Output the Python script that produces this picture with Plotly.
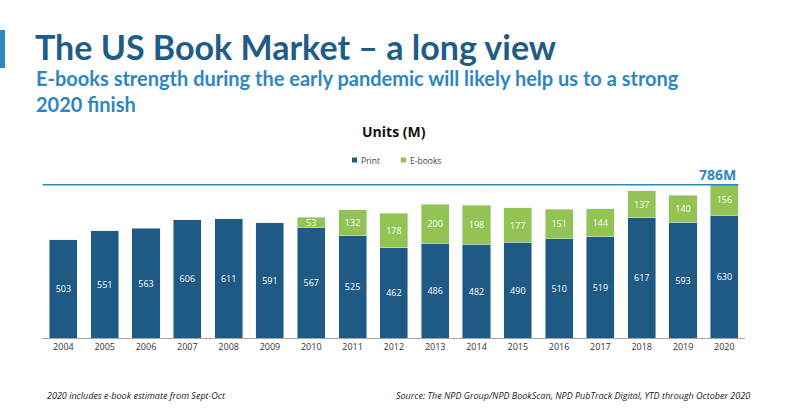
import plotly.graph_objects as go

years = [str(y) for y in range(2004, 2021)]
print_units = [503, 551, 563, 606, 611, 591, 567, 525, 462, 486, 482, 490, 510, 519, 617, 593, 630]
ebook_units = [None, None, None, None, None, None, 53, 132, 178, 200, 198, 177, 151, 144, 137, 140, 156]
total_2020 = 786
series_names = ["Print", "E-books"]

PRINT_C = "#1F5A85"
EBOOK_C = "#92C353"
TITLE_C = "#1F5C86"
SUB_C = "#2E86C1"

PH = 188.0  # plot height px
PW = 703.0  # plot width px

fig = go.Figure()
fig.add_trace(go.Bar(
    x=years, y=print_units, name=series_names[0], marker_color=PRINT_C,
    text=[str(v) for v in print_units], textposition="inside", insidetextanchor="middle",
    textangle=0, constraintext="none",
    textfont=dict(color="white", size=9, family="Open Sans"),
))
fig.add_trace(go.Bar(
    x=years, y=ebook_units, name=series_names[1], marker_color=EBOOK_C,
    text=[str(v) if v is not None else "" for v in ebook_units], textposition="inside",
    insidetextanchor="middle", textangle=0, constraintext="none",
    textfont=dict(color="white", size=9, family="Open Sans"),
))

fig.update_layout(
    barmode="stack", bargap=0.32,
    width=789, height=415,
    margin=dict(l=42, r=44, t=150, b=77),
    paper_bgcolor="white", plot_bgcolor="white",
    showlegend=False,
    xaxis=dict(showgrid=False, showline=True, linecolor="#A6A6A6", linewidth=1,
               tickfont=dict(size=9, family="Open Sans", color="#333"), ticks=""),
    yaxis=dict(range=[0, 964], visible=False),
    uniformtext=dict(minsize=6, mode="show"),
)

def px(x):
    return (x - 42) / PW

def py(y):
    return (338 - y) / PH

# custom legend
for name, color, x0 in [(series_names[0], PRINT_C, 352), (series_names[1], EBOOK_C, 401)]:
    fig.add_shape(type="rect", xref="paper", yref="paper", x0=px(x0), x1=px(x0 + 5),
                  y0=py(162.5), y1=py(157.5), line_width=0, fillcolor=color)
    fig.add_annotation(xref="paper", yref="paper", x=px(x0 + 7), y=py(160), xanchor="left",
                       yanchor="middle", text=name, showarrow=False,
                       font=dict(size=8.5, family="Open Sans", color="#444"))

# 786M reference line
fig.add_shape(type="line", xref="x", yref="y", x0=-0.5, x1=16.34, y0=total_2020, y1=total_2020,
              line=dict(color=SUB_C, width=1.5))
fig.add_annotation(xref="x", yref="y", x=16.34, y=total_2020, text="<b>%dM</b>" % total_2020,
                   showarrow=False, xanchor="right", yanchor="bottom",
                   font=dict(size=14, color=SUB_C, family="Open Sans"), yshift=-1)

# titles
fig.add_shape(type="rect", xref="paper", yref="paper", x0=px(0), x1=px(5),
              y0=py(30), y1=py(68), line_width=0, fillcolor=SUB_C)
fig.add_annotation(xref="paper", yref="paper", x=px(33), y=py(46), xanchor="left", yanchor="middle",
                   text="<b>The US Book Market – a long view</b>", showarrow=False,
                   font=dict(size=34, color=TITLE_C, family="Lato"))
fig.add_annotation(xref="paper", yref="paper", x=px(34), y=py(91), xanchor="left", yanchor="middle",
                   text="<b>E-books strength during the early pandemic will likely help us to a strong<br>2020 finish</b>",
                   showarrow=False, align="left",
                   font=dict(size=20, color=SUB_C, family="Lato"))
fig.add_annotation(xref="paper", yref="paper", x=0.5, y=py(131), xanchor="center", yanchor="middle",
                   text="<b>Units (M)</b>", showarrow=False,
                   font=dict(size=14, color="#111", family="Open Sans"))
# footnotes
fig.add_annotation(xref="paper", yref="paper", x=px(45), y=py(395), xanchor="left", yanchor="middle",
                   text="<i>2020 includes e-book estimate from Sept-Oct</i>", showarrow=False,
                   font=dict(size=9, color="#222", family="Open Sans"))
fig.add_annotation(xref="paper", yref="paper", x=px(752), y=py(395), xanchor="right", yanchor="middle",
                   text="<i>Source: The NPD Group/NPD BookScan, NPD PubTrack Digital, YTD through October 2020</i>",
                   showarrow=False, font=dict(size=9, color="#222", family="Open Sans"))

fig.write_html("out.html")
